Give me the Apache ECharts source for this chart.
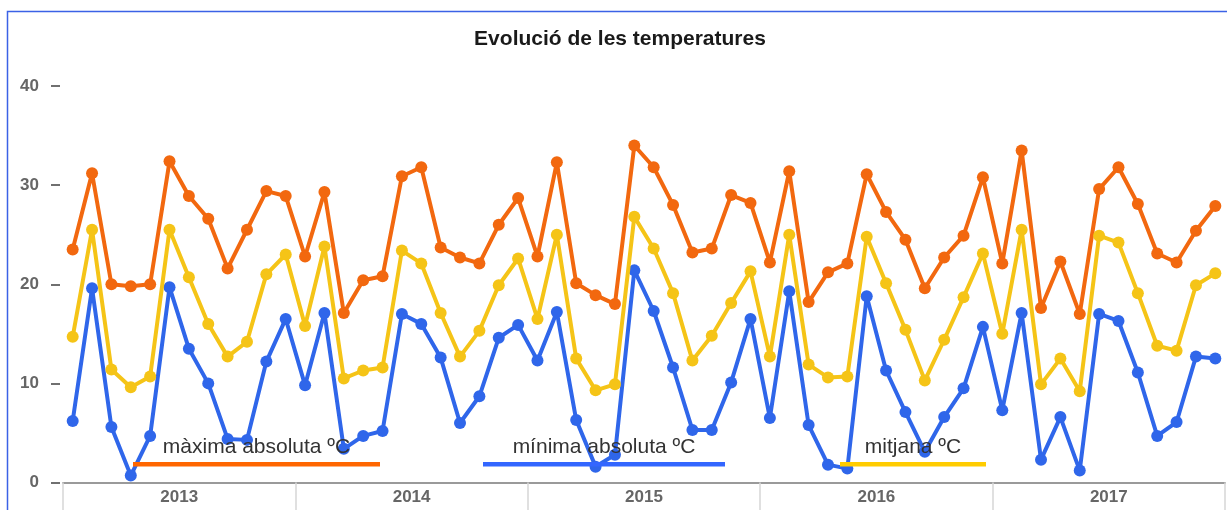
<!DOCTYPE html>
<html><head><meta charset="utf-8">
<script src="https://cdn.jsdelivr.net/npm/echarts@6/dist/echarts.min.js"></script>
<style>html,body{margin:0;padding:0;background:#fff}#c{width:1227px;height:510px}</style>
</head><body><div id="c"></div>
<script>
const titleText = 'Evolució de les temperatures';
const years = ['2013', '2014', '2015', '2016', '2017'];
const months = ['gen', 'febr', 'març', 'abr', 'maig', 'juny', 'jul', 'ag', 'set', 'oct', 'nov', 'des'];
const categories = years.flatMap(y => months.map(m => m + ' ' + y));
const yTicks = [0, 10, 20, 30, 40];
const seriesNames = ['màxima absoluta ºC', 'mínima absoluta ºC', 'mitjana ºC'];

const maxima = [
  23.5, 31.2, 20.0, 19.8, 20.0, 32.4, 28.9, 26.6, 21.6, 25.5, 29.4, 28.9,
  22.8, 29.3, 17.1, 20.4, 20.8, 30.9, 31.8, 23.7, 22.7, 22.1, 26.0, 28.7,
  22.8, 32.3, 20.1, 18.9, 18.0, 34.0, 31.8, 28.0, 23.2, 23.6, 29.0, 28.2,
  22.2, 31.4, 18.2, 21.2, 22.1, 31.1, 27.3, 24.5, 19.6, 22.7, 24.9, 30.8,
  22.1, 33.5, 17.6, 22.3, 17.0, 29.6, 31.8, 28.1, 23.1, 22.2, 25.4, 27.9
];
const minima = [
  6.2, 19.6, 5.6, 0.7, 4.7, 19.7, 13.5, 10.0, 4.4, 4.3, 12.2, 16.5,
  9.8, 17.1, 3.4, 4.7, 5.2, 17.0, 16.0, 12.6, 6.0, 8.7, 14.6, 15.9,
  12.3, 17.2, 6.3, 1.6, 2.8, 21.4, 17.3, 11.6, 5.3, 5.3, 10.1, 16.5,
  6.5, 19.3, 5.8, 1.8, 1.4, 18.8, 11.3, 7.1, 3.1, 6.6, 9.5, 15.7,
  7.3, 17.1, 2.3, 6.6, 1.2, 17.0, 16.3, 11.1, 4.7, 6.1, 12.7, 12.5
];
const mitjana = [
  14.7, 25.5, 11.4, 9.6, 10.7, 25.5, 20.7, 16.0, 12.7, 14.2, 21.0, 23.0,
  15.8, 23.8, 10.5, 11.3, 11.6, 23.4, 22.1, 17.1, 12.7, 15.3, 19.9, 22.6,
  16.5, 25.0, 12.5, 9.3, 9.9, 26.8, 23.6, 19.1, 12.3, 14.8, 18.1, 21.3,
  12.7, 25.0, 11.9, 10.6, 10.7, 24.8, 20.1, 15.4, 10.3, 14.4, 18.7, 23.1,
  15.0, 25.5, 9.9, 12.5, 9.2, 24.9, 24.2, 19.1, 13.8, 13.3, 19.9, 21.1
];

const seriesData = [maxima, minima, mitjana];
const lineColors = ['#f2680f', '#2f66ea', '#f5c417'];
const legendColors = ['#ff6600', '#3366ff', '#ffcc00'];
const legendLayout = [
  { x: 133, w: 247 },
  { x: 483, w: 242 },
  { x: 840, w: 146 }
];
const FONT = '"Liberation Sans", Arial, Helvetica, sans-serif';

const chart = echarts.init(document.getElementById('c'), null, { renderer: 'canvas' });

const legendGraphics = [];
seriesNames.forEach((name, i) => {
  const L = legendLayout[i];
  legendGraphics.push({
    type: 'rect', z: 100,
    shape: { x: L.x, y: 462, width: L.w, height: 4.5 },
    style: { fill: legendColors[i] }
  });
  legendGraphics.push({
    type: 'text', z: 101,
    x: L.x + L.w / 2, y: 447.5,
    style: {
      text: name, fill: '#333', font: '21px ' + FONT,
      textAlign: 'center', textVerticalAlign: 'middle'
    }
  });
});

const option = {
  animation: false,
  backgroundColor: '#fff',
  title: {
    text: titleText,
    left: 620, top: 29, padding: 0, textAlign: 'center',
    textStyle: { fontSize: 21, fontWeight: 'bold', color: '#1a1a1a', fontFamily: FONT }
  },
  grid: { left: 63, right: 2, top: 86, bottom: 27.5, containLabel: false },
  xAxis: [
    {
      type: 'category', data: categories, position: 'bottom', show: false, boundaryGap: true
    },
    {
      type: 'category', data: years, position: 'bottom', boundaryGap: true,
      axisLine: { show: true, lineStyle: { color: '#9a9a9a', width: 2 } },
      axisTick: { show: true, interval: 0, length: 28, lineStyle: { color: '#d6d6d6', width: 1.5 } },
      axisLabel: { color: '#666', fontWeight: 'bold', fontSize: 17, margin: 6, fontFamily: FONT },
      splitLine: { show: false }
    }
  ],
  yAxis: {
    type: 'value', min: yTicks[0], max: yTicks[yTicks.length - 1], interval: 10,
    position: 'left', offset: 3,
    axisLine: { show: false },
    axisTick: { show: true, length: 9, lineStyle: { color: '#707070', width: 2 } },
    axisLabel: { color: '#666', fontWeight: 'bold', fontSize: 17, margin: 21, fontFamily: FONT },
    splitLine: { show: false }
  },
  series: seriesNames.map((name, i) => ({
    name: name,
    type: 'line',
    xAxisIndex: 0,
    data: seriesData[i],
    symbol: 'circle',
    symbolSize: 12,
    showSymbol: true,
    lineStyle: { color: lineColors[i], width: 4 },
    itemStyle: { color: lineColors[i] },
    emphasis: { disabled: true },
    z: 2 + i
  })),
  graphic: [
    {
      type: 'polyline', z: 200, silent: true,
      shape: { points: [[7.5, 520], [7.5, 11.5], [1240, 11.5]] },
      style: { fill: null, stroke: '#3b62e6', lineWidth: 1.5 }
    }
  ].concat(legendGraphics)
};

chart.setOption(option);
</script>
</body></html>
